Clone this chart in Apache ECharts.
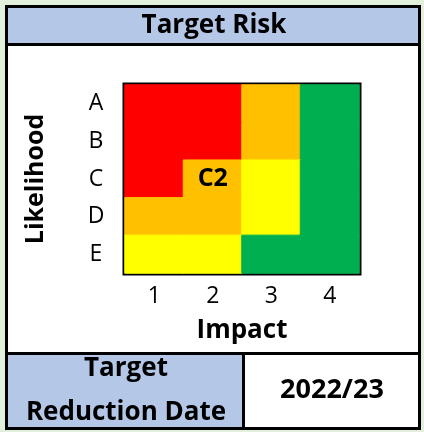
<!DOCTYPE html>
<html>
<head>
<meta charset="utf-8">
<script src="https://cdn.jsdelivr.net/npm/echarts@6/dist/echarts.min.js"></script>
<style>
html,body{margin:0;padding:0;background:#e2efda;}
#c{width:424px;height:432px;}
</style>
</head>
<body>
<div id="c"></div>
<script>
var likelihood = ['A', 'B', 'C', 'D', 'E'];
var impact = ['1', '2', '3', '4'];
// risk level per likelihood row (A..E), per impact column (1..4)
var riskA = ['high', 'high', 'medium', 'low'];
var riskB = ['high', 'high', 'medium', 'low'];
var riskC = ['high', 'medium', 'moderate', 'low'];
var riskD = ['medium', 'medium', 'moderate', 'low'];
var riskE = ['moderate', 'moderate', 'low', 'low'];
var levels = ['low', 'moderate', 'medium', 'high'];
var targetLikelihood = 'C';
var targetImpact = '2';
var titleText = 'Target Risk';
var xName = 'Impact';
var yName = 'Likelihood';
var dateLabel = 'Target\nReduction Date';
var dateValue = '2022/23';

var levelColors = {high: '#ff0000', medium: '#ffc000', moderate: '#ffff00', low: '#00b050'};
var rows = [riskA, riskB, riskC, riskD, riskE];
var FONT = '"Open Sans"';

var data = [];
rows.forEach(function (row, r) {
  row.forEach(function (lvl, c) {
    var isTarget = likelihood[r] === targetLikelihood && impact[c] === targetImpact;
    data.push({
      value: [c, r, levels.indexOf(lvl)],
      itemStyle: {color: levelColors[lvl], borderColor: levelColors[lvl], borderWidth: 1},
      label: {show: isTarget}
    });
  });
});

var chart = echarts.init(document.getElementById('c'), null, {renderer: 'canvas'});
chart.setOption({
  animation: false,
  backgroundColor: 'transparent',
  graphic: [
    {type: 'rect', z: -10, shape: {x: 5, y: 5, width: 416, height: 425}, style: {fill: '#000'}},
    {type: 'rect', z: -9, shape: {x: 8, y: 8, width: 410, height: 35}, style: {fill: '#b4c7e7'}},
    {type: 'rect', z: -9, shape: {x: 8, y: 46, width: 410, height: 306}, style: {fill: '#fff'}},
    {type: 'rect', z: -9, shape: {x: 8, y: 355, width: 234, height: 72}, style: {fill: '#b4c7e7'}},
    {type: 'rect', z: -9, shape: {x: 245, y: 355, width: 173, height: 72}, style: {fill: '#fff'}},
    {type: 'text', z: 10, style: {x: 214, y: 26, text: titleText, fill: '#000', font: 'bold 26px ' + FONT, textAlign: 'center', textVerticalAlign: 'middle'}},
    {type: 'text', z: 10, style: {x: 126, y: 391, text: dateLabel, fill: '#000', font: 'bold 26px ' + FONT, textAlign: 'center', textVerticalAlign: 'middle', lineHeight: 44}},
    {type: 'text', z: 10, style: {x: 332, y: 390, text: dateValue, fill: '#000', font: 'bold 27px ' + FONT, textAlign: 'center', textVerticalAlign: 'middle'}}
  ],
  grid: {left: 125, right: 65, top: 85, bottom: 159, show: true, borderColor: '#000', borderWidth: 5, backgroundColor: 'transparent', z: 0},
  xAxis: {
    type: 'category', data: impact, position: 'bottom',
    axisLine: {show: false}, axisTick: {show: false}, splitLine: {show: false},
    axisLabel: {fontFamily: FONT, fontSize: 23, color: '#000', margin: 12},
    name: xName, nameLocation: 'middle', nameGap: 45,
    nameTextStyle: {fontFamily: FONT, fontSize: 26, fontWeight: 'bold', color: '#000'}
  },
  yAxis: {
    type: 'category', data: likelihood, inverse: true,
    axisLine: {show: false}, axisTick: {show: false}, splitLine: {show: false},
    axisLabel: {fontFamily: FONT, fontSize: 23, color: '#000', margin: 29, align: 'center'},
    name: yName, nameLocation: 'middle', nameGap: 77, nameRotate: 90,
    nameTextStyle: {fontFamily: FONT, fontSize: 25, fontWeight: 'bold', color: '#000'}
  },
  series: [{
    type: 'heatmap', data: data, z: 2,
    label: {
      fontFamily: FONT, fontSize: 25, fontWeight: 'bold', color: '#000',
      formatter: function () { return targetLikelihood + targetImpact; }
    },
    emphasis: {disabled: true}
  }]
});
</script>
</body>
</html>
